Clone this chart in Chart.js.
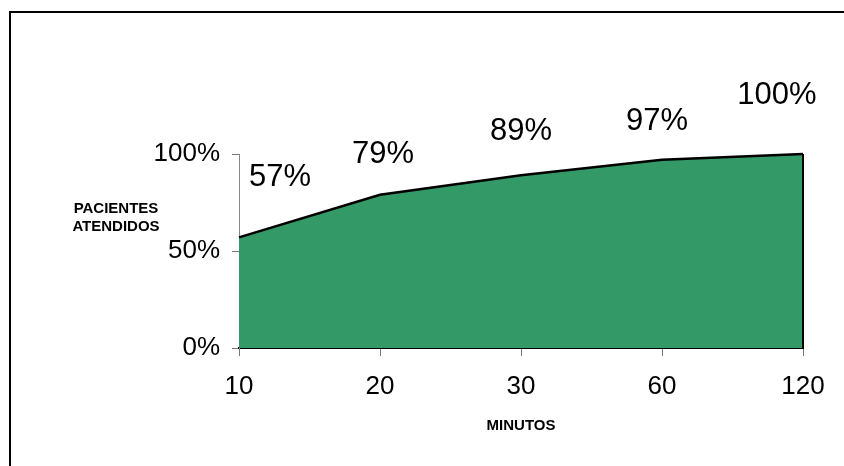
<!DOCTYPE html>
<html>
<head>
<meta charset="utf-8">
<script src="https://cdn.jsdelivr.net/npm/chart.js@4.4.1/dist/chart.umd.min.js"></script>
<style>
    html, body { margin: 0; padding: 0; background: #fff; }
    #wrap { position: relative; width: 844px; height: 466px; }
</style>
</head>
<body>
<div id="wrap"><canvas id="areaChart" width="844" height="466"></canvas></div>
<script>
// chart data
const minutos = ["10", "20", "30", "60", "120"];
const atendidos = [0.57, 0.79, 0.89, 0.97, 1.00];
const yTicks = [0, 0.5, 1];
const etiquetas = ["57%", "79%", "89%", "97%", "100%"];

// where each value label sits relative to its point (px)
const labelShift = [[41, -60], [3, -40], [0, -44], [-5, -38], [-26, -59]];

const FONT = "'Liberation Sans', Arial, sans-serif";

// frame, axis titles, value labels and the right edge of the area
const extras = {
    id: "extras",
    beforeDraw(chart) {
        const c = chart.ctx;
        c.save();
        c.fillStyle = "#fff";
        c.fillRect(0, 0, chart.width, chart.height);
        c.strokeStyle = "#000";
        c.lineWidth = 2;
        c.beginPath();
        c.moveTo(10, chart.height);
        c.lineTo(10, 12);
        c.lineTo(chart.width, 12);
        c.stroke();
        c.restore();
    },
    afterDatasetsDraw(chart) {
        const c = chart.ctx;
        const meta = chart.getDatasetMeta(0);
        const yScale = chart.scales.y;
        const last = meta.data[meta.data.length - 1];
        c.save();
        c.strokeStyle = "#000";
        c.lineWidth = 2;
        c.beginPath();
        c.moveTo(last.x, last.y);
        c.lineTo(last.x, yScale.getPixelForValue(0));
        c.stroke();

        c.fillStyle = "#000";
        c.font = "31px " + FONT;
        c.textAlign = "center";
        c.textBaseline = "middle";
        meta.data.forEach(function(pt, i) {
            c.fillText(etiquetas[i], pt.x + labelShift[i][0], pt.y + labelShift[i][1]);
        });

        c.font = "bold 15px " + FONT;
        c.fillText("PACIENTES", 116, 209);
        c.fillText("ATENDIDOS", 116, 227);
        const area = chart.chartArea;
        c.fillText("MINUTOS", (area.left + area.right) / 2, 426);
        c.restore();
    }
};

new Chart("areaChart", {
    type: "line",
    data: {
        labels: minutos,
        datasets: [{
            data: atendidos,
            fill: "origin",
            backgroundColor: "#339966",
            borderColor: "#000",
            borderWidth: 2.5,
            pointRadius: 0,
            tension: 0,
            clip: false
        }]
    },
    options: {
        responsive: false,
        animation: false,
        layout: { padding: { left: 0, top: 154, right: 41, bottom: 0 } },
        plugins: {
            legend: { display: false },
            tooltip: { enabled: false }
        },
        scales: {
            x: {
                type: "category",
                offset: false,
                afterFit: function(s) { s.height = 118; },
                border: { color: "#000", width: 2 },
                grid: { drawOnChartArea: false, color: "#777", tickLength: 8 },
                ticks: {
                    color: "#000",
                    padding: 15,
                    maxRotation: 0,
                    font: { family: FONT, size: 26 }
                }
            },
            y: {
                min: 0,
                max: 1,
                afterFit: function(s) { s.width = 239; },
                afterBuildTicks: function(s) { s.ticks = yTicks.map(v => ({ value: v })); },
                border: { color: "#888", width: 1 },
                grid: { drawOnChartArea: false, color: "#777", tickLength: 7 },
                ticks: {
                    color: "#000",
                    padding: 12,
                    font: { family: FONT, size: 26 },
                    callback: v => Math.round(v * 100) + "%"
                }
            }
        }
    },
    plugins: [extras]
});
</script>
</body>
</html>
